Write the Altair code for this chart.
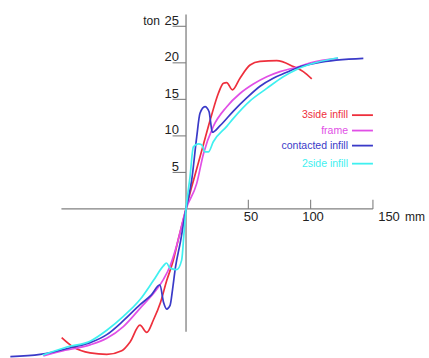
import altair as alt
import pandas as pd

# ---- data (mm, ton) ----
names = ["3side infill", "frame", "contacted infill", "2side infill"]
colors = ["#ee2f3c", "#e14fe6", "#3a3ac8", "#3ff0f0"]

red_x = [-99.8, -90.4, -77, -63.6, -51.6, -44.9, -37, -31.5, -26.2, -20.5, -15.5, -10.5, -6, 0,
         4.5, 8.6, 13.9, 20.6, 25.9, 30, 32.6, 37.2, 43.3, 51.4, 59.4, 72.8, 86.1, 94.1, 100.9]
red_y = [-17.6, -18.9, -19.7, -19.9, -19.4, -18.2, -15.9, -16.9, -15.2, -12.8, -9.8, -7.2, -4.0, 0,
         3.0, 5.5, 8.8, 12.9, 15.8, 17.2, 17.3, 16.3, 17.9, 19.7, 20.2, 20.3, 19.5, 18.8, 17.8]

mag_x = [-114.5, -101, -77, -63.6, -50.3, -36.9, -23.5, -18, -12.8, -7.5, 0,
         8.6, 13.9, 21.9, 32.7, 43.3, 54, 64.8, 75.4, 88.8, 100, 122]
mag_y = [-20.1, -19.5, -18.6, -17.7, -16.1, -13.6, -11.0, -9.6, -7.8, -5.0, 0,
         3.5, 7.5, 11.3, 14.0, 15.8, 17.1, 18.1, 18.8, 19.4, 20.0, 20.6]

blu_x = [-141, -117, -90.4, -77, -63.6, -50.3, -36.9, -28, -21, -18, -15.5, -12.8, -10.8, -8.5, -4.5, 0,
         4.6, 8.6, 11.2, 15.2, 18.5, 19.8, 21, 27.3, 38, 48.7, 59.4, 70, 80.8, 88.8, 105, 142.3]
blu_y = [-20.2, -19.9, -18.9, -18.3, -17.2, -15.3, -13.1, -11.8, -10.4, -12.8, -13.7, -13.2, -11.0, -8.0, -4.5, 0,
         4.0, 9.9, 13.1, 14.0, 13.3, 11.8, 10.5, 11.4, 13.4, 15.2, 16.8, 17.9, 18.7, 19.3, 20.0, 20.6]

cya_x = [-115, -95.7, -77, -63.6, -50.3, -36.9, -26.2, -18.2, -15.7, -12.8, -7.5, -3.5, -1.5, 0,
         3.2, 5.9, 9.9, 12.5, 15.2, 17.9, 21.9, 32.7, 38, 51.4, 64.8, 78, 88.8, 99.5, 122]
cya_y = [-20.0, -18.9, -18.1, -16.6, -14.7, -12.4, -9.8, -7.8, -7.4, -8.1, -8.3, -7.0, -3.0, 0,
         4.4, 8.5, 8.9, 8.8, 7.8, 7.8, 9.2, 11.3, 12.4, 14.8, 16.5, 18.1, 19.1, 19.8, 20.7]

series_xy = [(red_x, red_y), (mag_x, mag_y), (blu_x, blu_y), (cya_x, cya_y)]

x_ticks = [50, 100, 150]
y_ticks = [5, 10, 15, 20, 25]

# ---- scales (fixed so the origin sits where the reference puts it) ----
xs = alt.Scale(domain=[-149.3, 195.0], nice=False, zero=False)
ys = alt.Scale(domain=[-20.4, 28.6], nice=False, zero=False)
FONT = "Liberation Sans"
AX = "#808080"

def X(f="x"):
    return alt.X(f"{f}:Q", scale=xs, axis=None)

def Y(f="y"):
    return alt.Y(f"{f}:Q", scale=ys, axis=None)

layers = []

# axis lines
axes_df = pd.DataFrame({"x": [-100, 0], "x2": [150, 0], "y": [0, -16.8], "y2": [0, 26.6]})
layers.append(alt.Chart(axes_df).mark_rule(color=AX, strokeWidth=1.3).encode(
    x=X(), x2="x2:Q", y=Y(), y2="y2:Q"))

# ticks
xt = pd.DataFrame({"x": x_ticks, "y": [0] * 3, "y2": [1.25] * 3})
layers.append(alt.Chart(xt).mark_rule(color=AX, strokeWidth=1.1).encode(
    x=X(), y=Y(), y2="y2:Q"))
yt = pd.DataFrame({"y": y_ticks, "x": [-10.8] * 5, "x2": [0] * 5})
layers.append(alt.Chart(yt).mark_rule(color=AX, strokeWidth=1.1).encode(
    x=X(), x2="x2:Q", y=Y()))

# tick labels
xl = pd.DataFrame({"x": [52.2, 101.9, 162.9], "y": [-1.65] * 3, "t": [str(v) for v in x_ticks]})
layers.append(alt.Chart(xl).mark_text(font=FONT, fontSize=13, color="#222", baseline="alphabetic",
                                      align="center").encode(x=X(), y=Y(), text="t:N"))
mm = pd.DataFrame({"x": [175.8], "y": [-1.65], "t": ["mm"]})
layers.append(alt.Chart(mm).mark_text(font=FONT, fontSize=12, color="#222", baseline="alphabetic",
                                      align="left").encode(x=X(), y=Y(), text="t:N"))
yl = pd.DataFrame({"x": [-5.6] * 5, "y": y_ticks, "t": [str(v) for v in y_ticks]})
layers.append(alt.Chart(yl).mark_text(font=FONT, fontSize=13, color="#222", baseline="alphabetic",
                                      align="right", dy=-1.6).encode(x=X(), y=Y(), text="t:N"))
ton = pd.DataFrame({"x": [-21.0], "y": [25], "t": ["ton"]})
layers.append(alt.Chart(ton).mark_text(font=FONT, fontSize=12, color="#222", baseline="alphabetic",
                                       align="right", dy=-1.6).encode(x=X(), y=Y(), text="t:N"))

# curves
for name, col, (sx, sy) in zip(names, colors, series_xy):
    d = pd.DataFrame({"x": sx, "y": sy, "i": list(range(len(sx)))})
    layers.append(alt.Chart(d).mark_line(interpolate="monotone", strokeWidth=1.7, color=col,
                                         clip=True).encode(x=X(), y=Y(), order="i:Q"))

# custom legend
leg_y = [12.84, 10.73, 8.67, 6.2]
lt = pd.DataFrame({"x": [130.0] * 4, "y": leg_y, "t": names, "c": names})
layers.append(alt.Chart(lt).mark_text(font=FONT, fontSize=10.5, align="right", baseline="middle").encode(
    x=X(), y=Y(), text="t:N",
    color=alt.Color("c:N", scale=alt.Scale(domain=names, range=colors), legend=None)))
ll = pd.DataFrame({"x": [133.2] * 4, "x2": [150.0] * 4, "y": leg_y, "c": names})
layers.append(alt.Chart(ll).mark_rule(strokeWidth=1.8).encode(
    x=X(), x2="x2:Q", y=Y(),
    color=alt.Color("c:N", scale=alt.Scale(domain=names, range=colors), legend=None)))

chart = alt.layer(*layers).properties(
    width=429, height=358, padding=0, autosize=alt.AutoSizeParams(type="none"),
    background="white"
).configure_view(stroke=None)

chart.save("out.html", embed_options={"renderer": "svg", "actions": False})
